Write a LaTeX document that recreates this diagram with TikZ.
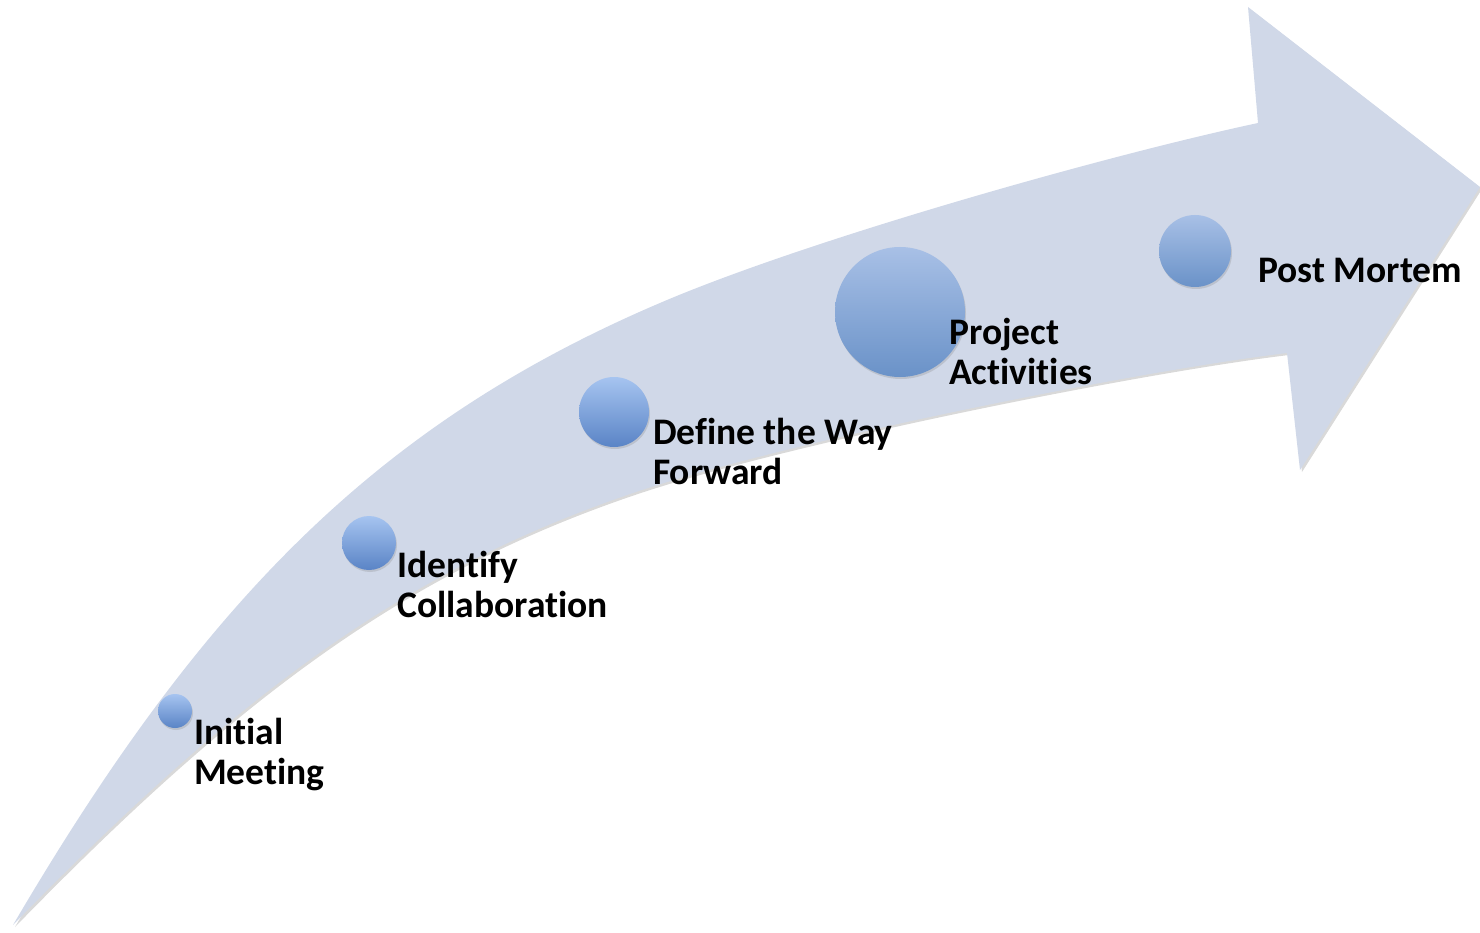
\documentclass[tikz,border=0pt]{standalone}
\usepackage{fontspec}
\setmainfont{Carlito}[Ligatures=NoCommon]
\usetikzlibrary{shadows}
\definecolor{bandfill}{RGB}{208,216,232}
\definecolor{dottop}{RGB}{166,196,240}
\definecolor{dotbottom}{RGB}{90,132,198}
\definecolor{paletop}{RGB}{168,192,230}
\definecolor{palebottom}{RGB}{106,146,200}
\tikzset{milestone dot/.style={circle, inner sep=0pt, top color=dottop, bottom color=dotbottom, drop shadow={opacity=0.25, shadow xshift=1pt, shadow yshift=-2pt}}}
\tikzset{pale dot/.style={milestone dot, top color=paletop, bottom color=palebottom}}
\tikzset{milestone label/.style={align=left, inner sep=0pt, anchor=base west, font=\fontsize{37.5}{40}\selectfont\bfseries}}

\begin{document}
\begin{tikzpicture}[x=1pt, y=-1pt]
\useasboundingbox (0,0) rectangle (1480,933);
% curved arrow
\fill[bandfill, drop shadow={opacity=0.3, shadow xshift=2pt, shadow yshift=-2pt}]
  (13,925) .. controls (202,603) and (377,422) .. (667,300)
  .. controls (817,237) and (1108,155) .. (1258,123)
  -- (1248,7) -- (1480,187) -- (1300,470) -- (1287,353)
  .. controls (1137,371) and (783,442) .. (633,493)
  .. controls (403,571) and (237,695) .. (13,925) -- cycle;
% milestones
\node[milestone dot, minimum size=34pt] (dotInit) at (175,711) {};
\node[milestone dot, minimum size=54pt] (dotCollab) at (369,543) {};
\node[milestone dot, minimum size=70pt] (dotWay) at (614,412) {};
\node[pale dot, minimum size=130pt] (dotProject) at (900,312) {};
\node[pale dot, minimum size=72pt] (dotPost) at (1195,251) {};
% labels (base = last line)
\node[milestone label] (lblInit) at (194,784) {Initial\\Meeting};
\node[milestone label] (lblCollab) at (397,617) {Identify\\Collaboration};
\node[milestone label] (lblWay) at (653,484) {Define the Way\\Forward};
\node[milestone label] (lblProject) at (949,384) {Project\\Activities};
\node[milestone label] (lblPost) at (1258,283) {Post Mortem};
\end{tikzpicture}
\end{document}
